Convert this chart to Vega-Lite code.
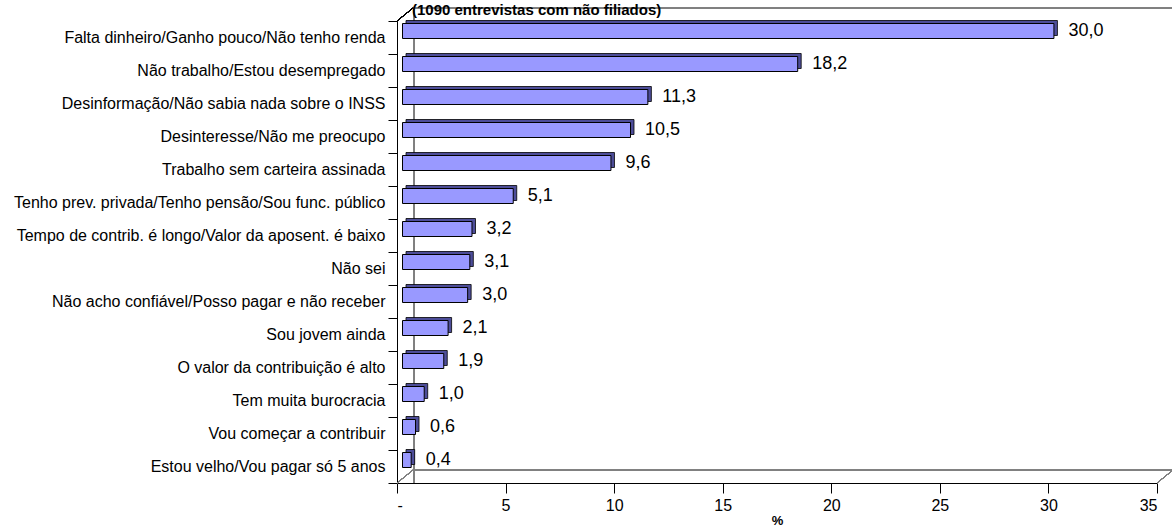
{
  "$schema": "https://vega.github.io/schema/vega-lite/v6.json",
  "width": 760,
  "height": 462,
  "autosize": {"type": "none"},
  "padding": {"left": 397, "top": 21, "right": 15, "bottom": 43},
  "background": "white",
  "title": {
    "text": "(1090 entrevistas com não filiados)",
    "anchor": "start",
    "frame": "group",
    "font": "Liberation Sans",
    "fontSize": 15,
    "fontWeight": "bold",
    "color": "black",
    "baseline": "alphabetic",
    "offset": -22,
    "dx": 15
  },
  "config": {
    "view": {"stroke": null},
    "locale": {"number": {"decimal": ",", "thousands": ".", "grouping": [3], "currency": ["R$", ""]}},
    "font": "Liberation Sans"
  },
  "data": {
    "values": [
      {"motivo": "Falta dinheiro/Ganho pouco/Não tenho renda", "pct": 30.0},
      {"motivo": "Não trabalho/Estou desempregado", "pct": 18.2},
      {"motivo": "Desinformação/Não sabia nada sobre o INSS", "pct": 11.3},
      {"motivo": "Desinteresse/Não me preocupo", "pct": 10.5},
      {"motivo": "Trabalho sem carteira assinada", "pct": 9.6},
      {"motivo": "Tenho prev. privada/Tenho pensão/Sou func. público", "pct": 5.1},
      {"motivo": "Tempo de contrib. é longo/Valor da aposent. é baixo", "pct": 3.2},
      {"motivo": "Não sei", "pct": 3.1},
      {"motivo": "Não acho confiável/Posso pagar e não receber", "pct": 3.0},
      {"motivo": "Sou jovem ainda", "pct": 2.1},
      {"motivo": "O valor da contribuição é alto", "pct": 1.9},
      {"motivo": "Tem muita burocracia", "pct": 1.0},
      {"motivo": "Vou começar a contribuir", "pct": 0.6},
      {"motivo": "Estou velho/Vou pagar só 5 anos", "pct": 0.4}
    ]
  },
  "encoding": {
    "y": {
      "field": "motivo",
      "type": "nominal",
      "sort": null,
      "scale": {"paddingInner": 0, "paddingOuter": 0},
      "axis": {
        "title": null,
        "domain": true,
        "ticks": true,
        "domainColor": "black",
        "domainWidth": 1,
        "tickColor": "black",
        "tickWidth": 1,
        "tickBand": "extent",
        "tickSize": 9,
        "labelFontSize": 16,
        "labelColor": "black",
        "labelPadding": 3,
        "labelLimit": 0,
        "labelFont": "Liberation Sans"
      }
    }
  },
  "layer": [
    {
      "mark": {"type": "rule", "color": "#808080", "strokeWidth": 1, "xOffset": 17, "yOffset": -13, "y2Offset": -13},
      "encoding": {"x": {"datum": 0, "type": "quantitative"}, "y": null}
    },
    {
      "mark": {"type": "rule", "color": "#808080", "strokeWidth": 1, "xOffset": 16, "x2Offset": 16, "yOffset": -13},
      "encoding": {"x": {"datum": 0, "type": "quantitative"}, "x2": {"datum": 35}, "y": {"value": 0}}
    },
    {
      "mark": {"type": "rule", "color": "#808080", "strokeWidth": 1, "xOffset": 16, "x2Offset": 16, "yOffset": -13},
      "encoding": {"x": {"datum": 0, "type": "quantitative"}, "x2": {"datum": 35}, "y": {"value": {"expr": "height"}}}
    },
    {
      "mark": {"type": "rule", "color": "#000000", "strokeWidth": 1, "x2Offset": 16, "y2Offset": -13},
      "encoding": {"x": {"datum": 0, "type": "quantitative"}, "x2": {"datum": 0}, "y": {"value": 0}, "y2": {"value": 0}}
    },
    {
      "mark": {"type": "rule", "color": "#808080", "strokeWidth": 1, "x2Offset": 16, "y2Offset": -13},
      "encoding": {"x": {"datum": 0, "type": "quantitative"}, "x2": {"datum": 0}, "y": {"value": {"expr": "height"}}, "y2": {"value": {"expr": "height"}}}
    },
    {
      "mark": {"type": "rule", "color": "#808080", "strokeWidth": 1, "x2Offset": 16, "y2Offset": -13},
      "encoding": {"x": {"datum": 35, "type": "quantitative"}, "x2": {"datum": 35}, "y": {"value": {"expr": "height"}}, "y2": {"value": {"expr": "height"}}}
    },
    {
      "mark": {"type": "bar", "fill": "#4d4d99", "stroke": "black", "strokeWidth": 0.8, "size": 15, "xOffset": 9, "x2Offset": 9, "yOffset": -9.5},
      "encoding": {
        "x": {
          "field": "pct",
          "type": "quantitative",
          "scale": {"domain": [0, 35], "nice": false},
          "axis": {
            "values": [0, 5, 10, 15, 20, 25, 30, 35],
            "title": "%",
            "titleFontSize": 13,
            "titleFontWeight": "bold",
            "titleColor": "black",
            "titlePadding": 1,
            "grid": false,
            "domainColor": "black",
            "tickColor": "black",
            "tickSize": 10,
            "labelFontSize": 16,
            "labelColor": "black",
            "labelFont": "Liberation Sans Narrow, Liberation Sans, Arial",
            "labelPadding": 4,
            "labelExpr": "datum.value == 0 ? '-' : datum.label"
          }
        }
      }
    },
    {
      "mark": {"type": "bar", "fill": "#9999ff", "stroke": "black", "strokeWidth": 1, "size": 15, "xOffset": 5.5, "x2Offset": 5.5, "yOffset": -6.5},
      "encoding": {"x": {"field": "pct", "type": "quantitative"}}
    },
    {
      "mark": {"type": "text", "align": "left", "baseline": "middle", "dx": 20, "yOffset": -6.5, "fontSize": 18, "font": "Liberation Sans", "color": "black"},
      "encoding": {
        "x": {"field": "pct", "type": "quantitative"},
        "text": {"field": "pct", "type": "quantitative", "format": ".1f"}
      }
    }
  ]
}
